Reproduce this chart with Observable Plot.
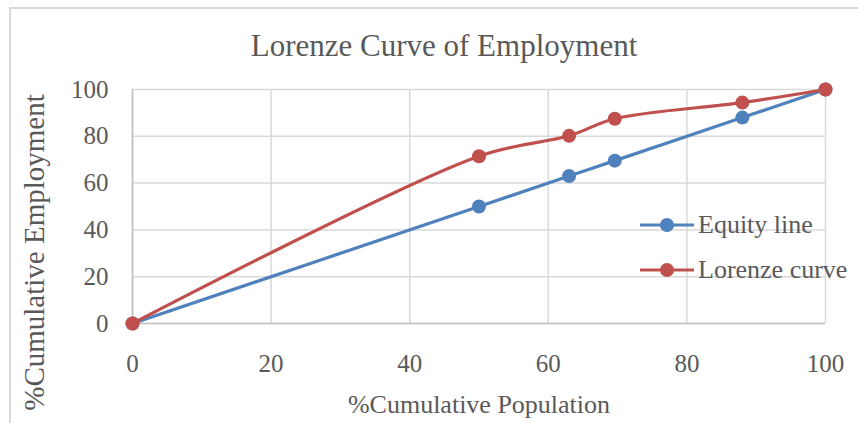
<!DOCTYPE html>
<html>
<head>
<meta charset="utf-8">
<script src="https://cdn.jsdelivr.net/npm/d3@7"></script>
<script src="https://cdn.jsdelivr.net/npm/@observablehq/plot@0.6"></script>
<style>
  html, body { margin: 0; padding: 0; background: #fff; }
  #wrap { position: relative; width: 858px; height: 423px; overflow: hidden; font-family: 'Liberation Serif', 'Times New Roman', serif; color: #595959; }
  #frame { position: absolute; left: 9px; top: 7px; width: 860px; height: 430px; border-left: 2px solid #d9d9d9; border-top: 2px solid #d9d9d9; }
  #chart { position: absolute; left: 0; top: 0; }
  .legrow { position: absolute; left: 640px; height: 26px; display: flex; align-items: center; font-size: 26px; line-height: 26px; white-space: nowrap; }
  .legrow svg { margin-right: 4px; }
</style>
</head>
<body>
<div id="wrap">
  <div id="frame"></div>
  <div id="chart"></div>
  <div id="legend"></div>
</div>
<script>
// Data
const population = [0, 50, 63, 69.6, 88, 100];
const equityLine = [0, 50, 63, 69.6, 88, 100];
const lorenzeCurve = [0, 71.5, 80.2, 87.5, 94.4, 100];
const seriesNames = ["Equity line", "Lorenze curve"];
const seriesColors = ["#4F81BD", "#C0504D"];
const xTicks = [0, 20, 40, 60, 80, 100];
const yTicks = [0, 20, 40, 60, 80, 100];
const titleText = "Lorenze Curve of Employment";
const xLabel = "%Cumulative Population";
const yLabel = "%Cumulative Employment";

const rows = [];
population.forEach((p, i) => rows.push({series: seriesNames[0], x: p, y: equityLine[i]}));
population.forEach((p, i) => rows.push({series: seriesNames[1], x: p, y: lorenzeCurve[i]}));

const gridColor = "#d9d9d9";
const axisColor = "#bfbfbf";

const chart = Plot.plot({
  width: 858,
  height: 423,
  marginLeft: 132,
  marginRight: 33,
  marginTop: 89,
  marginBottom: 100,
  style: {fontFamily: "'Liberation Serif', 'Times New Roman', serif", fontSize: "25px", color: "#595959", background: "transparent", overflow: "visible"},
  x: {domain: [0, 100]},
  y: {domain: [0, 100]},
  color: {domain: seriesNames, range: seriesColors},
  marks: [
    Plot.gridX(xTicks, {stroke: gridColor, strokeOpacity: 1, strokeWidth: 1.5}),
    Plot.gridY(yTicks, {stroke: gridColor, strokeOpacity: 1, strokeWidth: 1.5}),
    Plot.ruleX([0], {stroke: axisColor, strokeWidth: 1.5}),
    Plot.ruleY([0], {stroke: axisColor, strokeWidth: 1.5}),
    Plot.axisX(xTicks, {tickSize: 0, tickPadding: 31, fontSize: 25, label: null}),
    Plot.axisY(yTicks, {tickSize: 0, tickPadding: 24, fontSize: 25, label: null}),
    Plot.line(rows, {x: "x", y: "y", z: "series", stroke: "series", strokeWidth: 3.2, curve: "catmull-rom"}),
    Plot.dot(rows, {x: "x", y: "y", fill: "series", r: 7, stroke: null}),
    Plot.text([titleText], {frameAnchor: "top", dx: -35, dy: -43, fontSize: 31, lineAnchor: "middle", fill: "#595959"}),
    Plot.text([xLabel], {frameAnchor: "bottom", dy: 81, fontSize: 26, lineAnchor: "middle", fill: "#595959"}),
    Plot.text([yLabel], {frameAnchor: "left", textAnchor: "middle", rotate: -90, dx: -98, dy: 46, fontSize: 29, lineAnchor: "middle", fill: "#595959"})
  ]
});
document.getElementById("chart").appendChild(chart);

// Legend
const legend = document.getElementById("legend");
const rowTops = [212, 257];
seriesNames.forEach((name, i) => {
  const row = document.createElement("div");
  row.className = "legrow";
  row.style.top = rowTops[i] + "px";
  const c = seriesColors[i];
  row.innerHTML = `<svg width="54" height="26"><line x1="0" x2="54" y1="13" y2="13" stroke="${c}" stroke-width="3.2"/><circle cx="27" cy="13" r="7" fill="${c}"/></svg><span>${name}</span>`;
  legend.appendChild(row);
});
</script>
</body>
</html>
